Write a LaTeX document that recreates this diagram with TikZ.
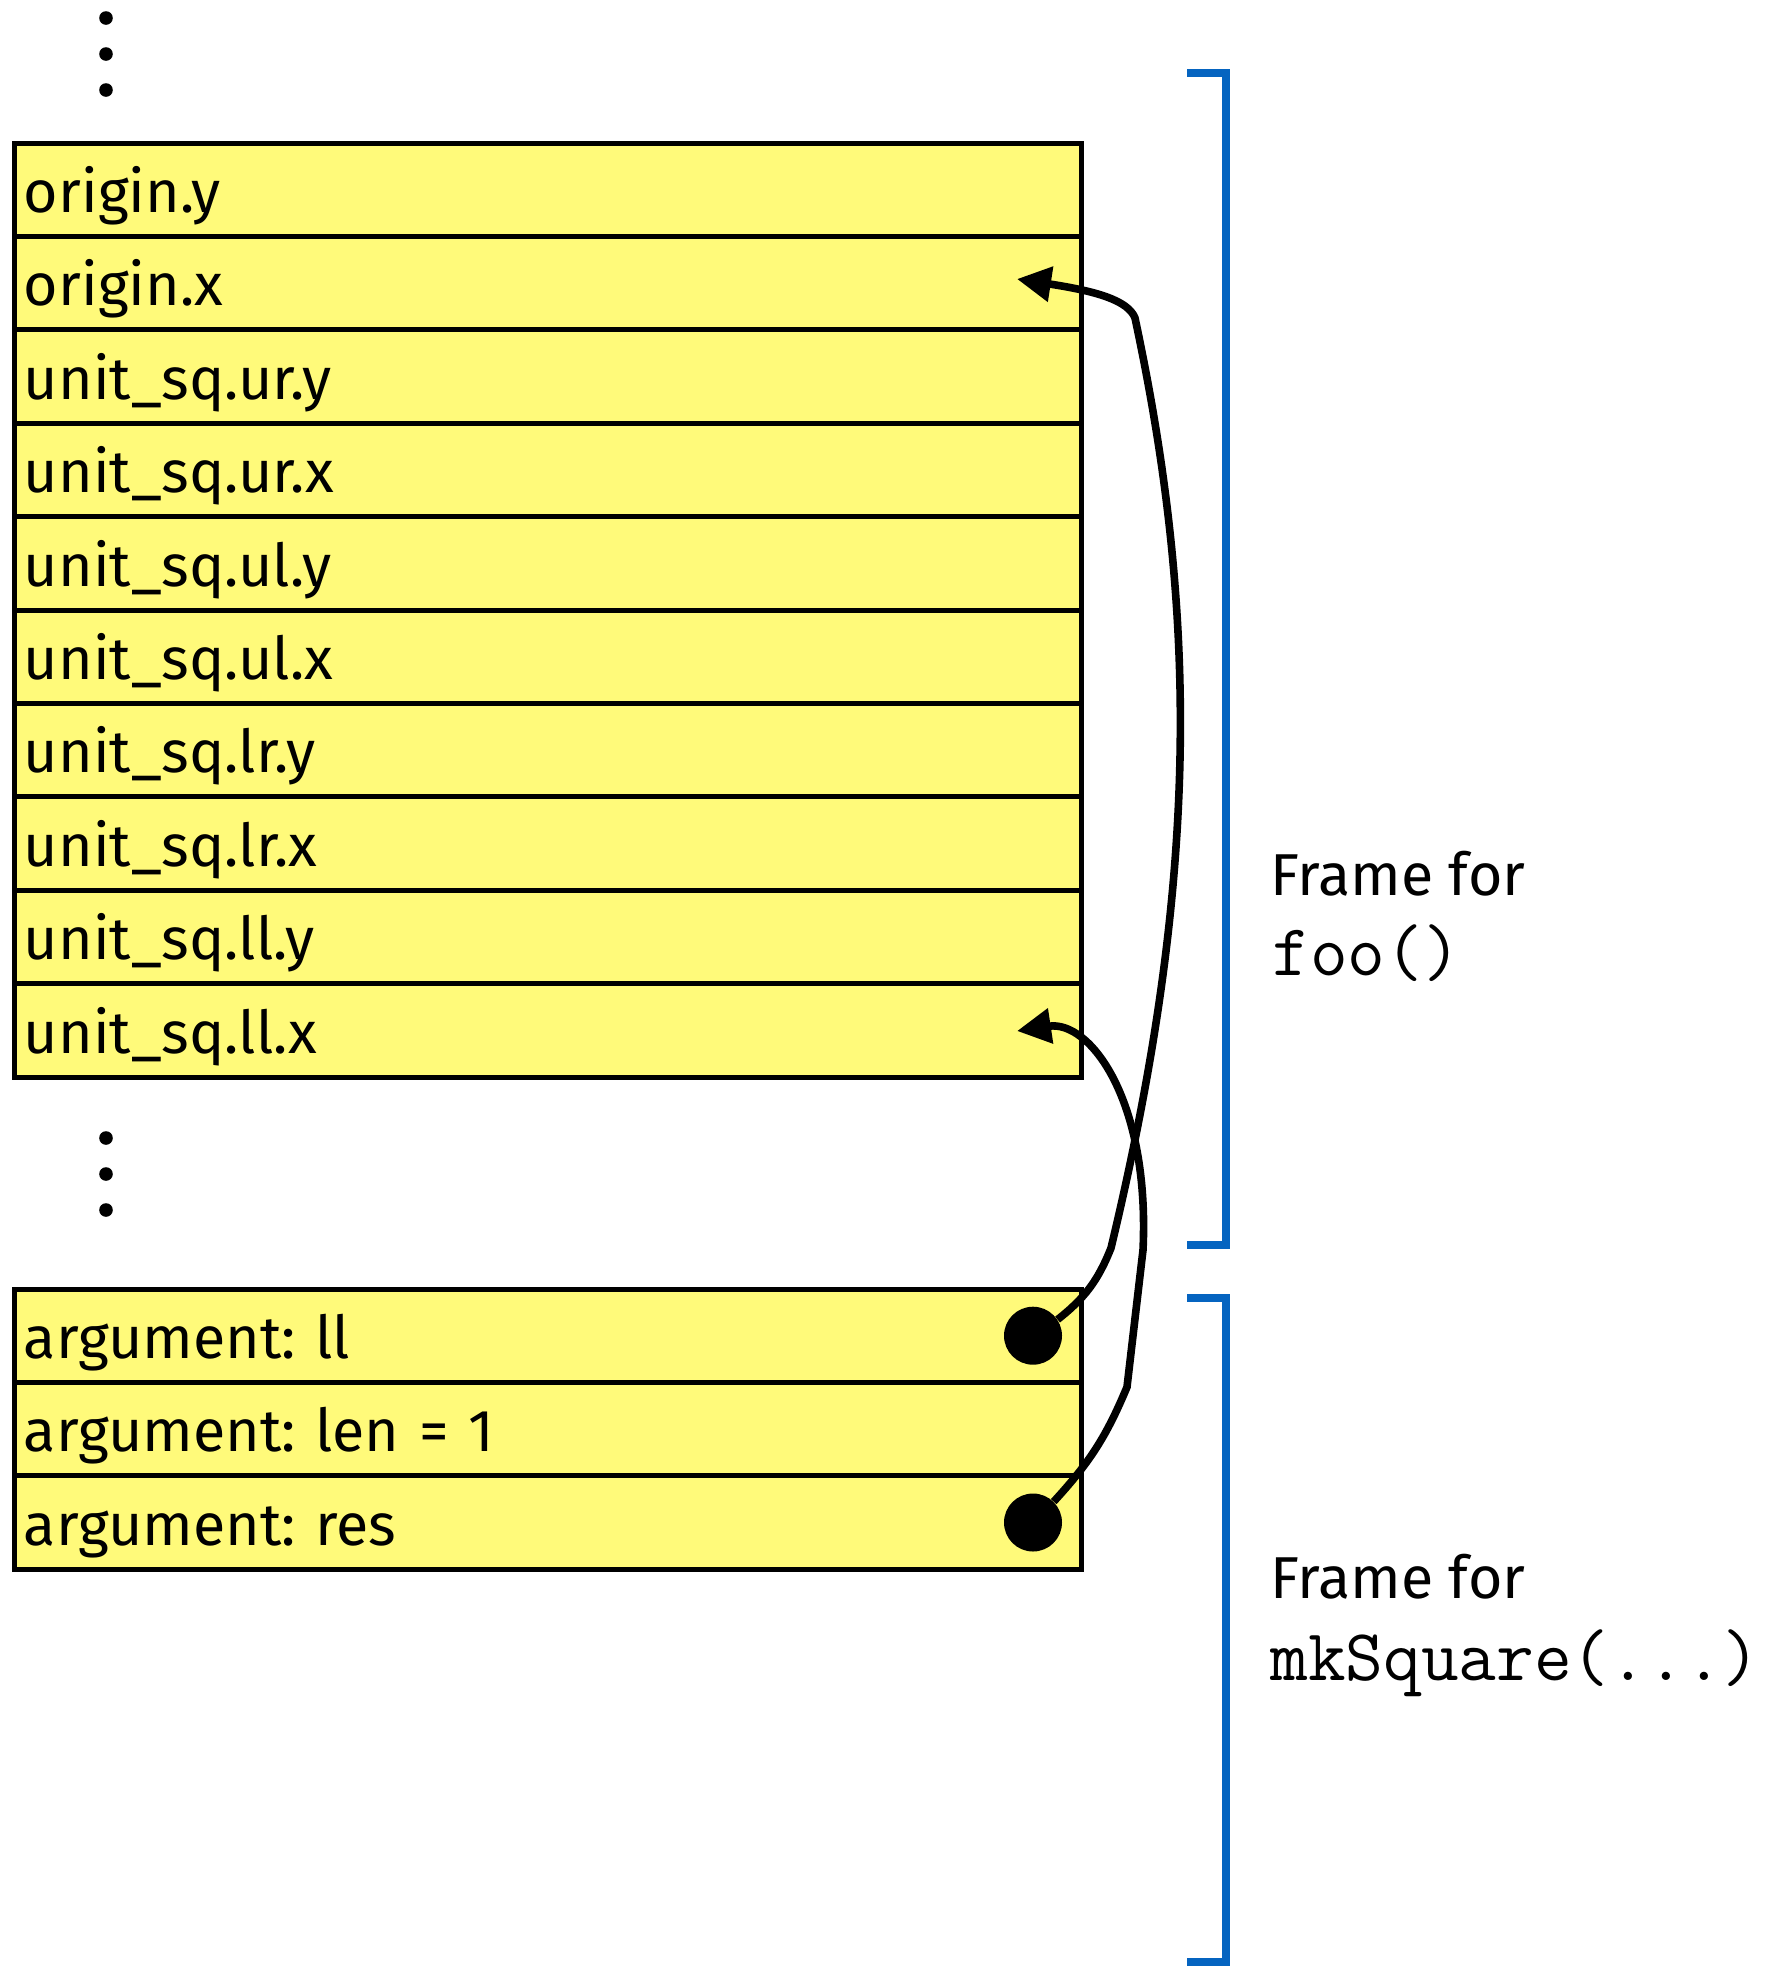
\documentclass[tikz,border=0pt]{standalone}
\usepackage{fontspec}
\setmainfont{Fira Sans}
\usetikzlibrary{arrows.meta}
\definecolor{cellyellow}{RGB}{255,250,122}
\definecolor{frameblue}{RGB}{5,100,192}
\frenchspacing
\newlength\mywd
\settowidth{\mywd}{\fontsize{10pt}{12pt}\selectfont argument: len = 1}
\begin{document}
\pgfmathsetmacro\fsz{10*229/\mywd}
\begin{tikzpicture}[x=0.5pt,y=-0.5pt,
  cell/.style={draw, line width=2.5pt, fill=cellyellow, outer sep=0pt,
    minimum width=533.5pt, minimum height=46.7pt, inner xsep=5pt, inner ysep=0pt,
    text width=523.5pt, align=left, text height=34.7pt, text depth=12pt,
    font=\fontsize{\fsz pt}{\fsz pt}\selectfont},
  bigdot/.style={circle, fill=black, minimum size=29pt, inner sep=0pt},
  vdot/.style={fill=black},
  ptr/.style={line width=3.8pt, -{Triangle[length=17pt,width=17pt]}},
  bracket/.style={draw=frameblue, line width=4.2pt},
  lbl/.style={anchor=base west, inner sep=0pt, font=\fontsize{\fsz pt}{\fsz pt}\selectfont},
  code/.style={anchor=base west, inner sep=0pt, font=\ttfamily\fontsize{36.6pt}{36.6pt}\selectfont}]
\useasboundingbox (0,0) rectangle (1791,1966);
% top ellipsis
\foreach \yy in {18,54,90} \fill[vdot] (106,\yy) circle (3.4pt);
% frame for foo
\node[cell] (r1) at (547.5,189.7) {origin.y};
\node[cell] (r2) at (547.5,283.1) {origin.x};
\node[cell] (r3) at (547.5,376.5) {unit\_sq.ur.y};
\node[cell] (r4) at (547.5,469.9) {unit\_sq.ur.x};
\node[cell] (r5) at (547.5,563.3) {unit\_sq.ul.y};
\node[cell] (r6) at (547.5,656.7) {unit\_sq.ul.x};
\node[cell] (r7) at (547.5,750.1) {unit\_sq.lr.y};
\node[cell] (r8) at (547.5,843.5) {unit\_sq.lr.x};
\node[cell] (r9) at (547.5,936.9) {unit\_sq.ll.y};
\node[cell] (r10) at (547.5,1030.3) {unit\_sq.ll.x};
% middle ellipsis
\foreach \yy in {1138,1174,1210} \fill[vdot] (106,\yy) circle (3.4pt);
% frame for mkSquare
\node[cell] (a1) at (547.5,1335.7) {argument: ll};
\node[cell] (a2) at (547.5,1429.1) {argument: len = 1};
\node[cell] (a3) at (547.5,1522.5) {argument: res};
\node[bigdot] (d1) at (1033,1335.7) {};
\node[bigdot] (d2) at (1033,1522.5) {};
\coordinate (t1) at (1017,279);
\coordinate (t2) at (1017,1031);
% pointers
\draw[ptr] (d1) to[bend right=15] (1111,1248)
  .. controls (1199,881) and (1199,618) .. (1135,318)
  .. controls (1128,300) and (1095,291) .. (t1);
\draw[ptr] (d2) to[bend right=10] (1127,1387)
  -- (1143,1250)
  .. controls (1150,1100) and (1090,1020) .. (t2);
% brackets
\draw[bracket] (1187,73) -- (1226,73) -- (1226,1245) -- (1187,1245);
\draw[bracket] (1187,1298) -- (1226,1298) -- (1226,1962) -- (1187,1962);
% labels
\node[lbl] (f1) at (1270,895) {Frame for};
\node[code] (f1c) at (1272,975) {foo()};
\node[lbl] (f2) at (1270,1598) {Frame for};
\node[code] (f2c) at (1270,1680) {mkSquare(...)};
\end{tikzpicture}
\end{document}
